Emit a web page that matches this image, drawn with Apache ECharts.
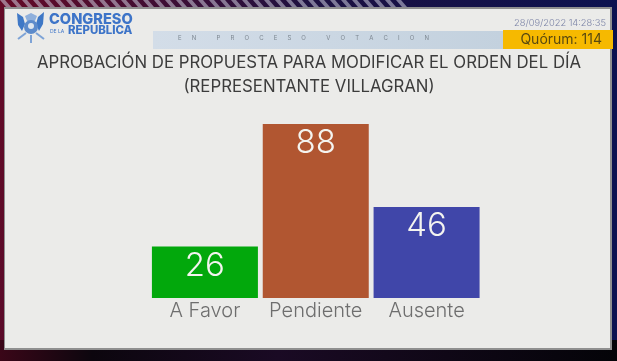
<!DOCTYPE html>
<html>
<head>
<meta charset="utf-8">
<style>
html, body { margin: 0; padding: 0; background: #0a0612; }
#chart { width: 617px; height: 361px; }
</style>
<script src="https://cdn.jsdelivr.net/npm/echarts@6/dist/echarts.min.js"></script>
</head>
<body>
<div id="chart"></div>
<script>
// 数据
var categories = ['A Favor', 'Pendiente', 'Ausente'];
var votes = [26, 88, 46];
var barColors = ['#02a80c', '#b15631', '#4046a9'];
var titleLines = ['APROBACIÓN DE PROPUESTA PARA MODIFICAR EL ORDEN DEL DÍA', '(REPRESENTANTE VILLAGRAN)'];
var stamp = '28/09/2022 14:28:35';
var quorum = 'Quórum: 114';
var statusWords = ['EN', 'PROCESO', 'VOTACION'];

var fontName = 'Inter, "Open Sans", sans-serif';
var myChart = echarts.init(document.getElementById('chart'));

// 顶部斜纹
function stripes() {
  var list = [];
  for (var x = 0; x < 400; x += 11) {
    list.push({
      type: 'polygon',
      z: -9,
      shape: { points: [[x, 0], [x + 5, 0], [x + 11, 7], [x + 6, 7]] },
      style: { fill: '#cfcfe0', opacity: 0.55 }
    });
  }
  return list;
}

// 背景和面板
function frame() {
  return [
    { type: 'rect', z: -10, shape: { x: 0, y: 0, width: 617, height: 361 },
      style: { fill: new echarts.graphic.LinearGradient(0, 0, 1, 0.2, [
        { offset: 0, color: '#640a26' }, { offset: 0.5, color: '#1c1040' }, { offset: 1, color: '#0c1250' }
      ]) } },
    // 底部暗带
    { type: 'rect', z: -9, shape: { x: 0, y: 340, width: 617, height: 21 },
      style: { fill: new echarts.graphic.LinearGradient(0, 0, 1, 0, [
        { offset: 0, color: '#3a0618' }, { offset: 0.15, color: '#0c060e' }, { offset: 0.45, color: '#1a0a24' }, { offset: 1, color: '#040408' }
      ]) } },
    { type: 'rect', z: -8, shape: { x: 4, y: 7, width: 608, height: 343 },
      style: { fill: '#8f8f8f' } },
    { type: 'rect', z: -7, shape: { x: 5, y: 9, width: 605, height: 339 },
      style: { fill: '#ebebe9' } }
  ];
}

// 徽标
function logo() {
  return [
    { type: 'polygon', shape: { points: [[17, 13], [23, 17], [25, 24], [22, 31], [18, 25]] }, style: { fill: '#3f78c6' } },
    { type: 'polygon', shape: { points: [[44, 12], [38, 17], [36, 24], [39, 31], [43, 24]] }, style: { fill: '#3f78c6' } },
    { type: 'polygon', shape: { points: [[25, 16], [31, 13], [37, 16], [35, 21], [27, 21]] }, style: { fill: '#8fb0dc' } },
    { type: 'circle', shape: { cx: 31, cy: 27, r: 7 }, style: { fill: '#5d8bcb' } },
    { type: 'circle', shape: { cx: 31, cy: 26, r: 3 }, style: { fill: '#dfe6ef' } },
    { type: 'polyline', shape: { points: [[18, 39], [26, 33]] }, style: { stroke: '#7ea3d6', lineWidth: 2 } },
    { type: 'polyline', shape: { points: [[44, 39], [36, 33]] }, style: { stroke: '#7ea3d6', lineWidth: 2 } },
    { type: 'polyline', shape: { points: [[31, 35], [31, 43]] }, style: { stroke: '#7ea3d6', lineWidth: 2 } }
  ];
}

// 标题栏
function header() {
  var spaced = statusWords.map(function (w) { return w.split('').join('      '); }).join('            ');
  return [
    { type: 'rect', shape: { x: 153, y: 31, width: 350, height: 18 },
      style: { fill: new echarts.graphic.LinearGradient(0, 0, 1, 0, [
        { offset: 0, color: '#d3dde8' }, { offset: 1, color: '#c3d1de' }
      ]) } },
    { type: 'rect', shape: { x: 503, y: 30, width: 110, height: 19 }, style: { fill: '#f6b900' } },
    { type: 'text', style: { x: 178, y: 35, text: spaced, fill: '#7d8791', font: '6px ' + fontName } },
    { type: 'text', style: { x: 606, y: 23, text: stamp, fill: '#7b83a6', align: 'right', verticalAlign: 'middle', font: '300 9.3px ' + fontName } },
    { type: 'text', style: { x: 602, y: 40, text: quorum, fill: '#5a4a10', align: 'right', verticalAlign: 'middle', font: '14px ' + fontName } },
    { type: 'text', style: { x: 49, y: 19.5, text: 'CONGRESO', fill: '#3d74c8', verticalAlign: 'middle', font: '800 14.6px ' + fontName } },
    { type: 'text', style: { x: 50, y: 31, text: 'DE LA', fill: '#3d74c8', verticalAlign: 'middle', font: '5px ' + fontName } },
    { type: 'text', style: { x: 68, y: 31, text: 'REPÚBLICA', fill: '#3d74c8', verticalAlign: 'middle', font: '800 11.4px ' + fontName } },
    { type: 'text', style: { x: 309, y: 63, text: titleLines[0], fill: '#3c3c3c', align: 'center', verticalAlign: 'middle', font: '16.8px ' + fontName } },
    { type: 'text', style: { x: 309, y: 87, text: titleLines[1], fill: '#3c3c3c', align: 'center', verticalAlign: 'middle', font: '16.8px ' + fontName } }
  ];
}

function getBarData() {
  return {
    animation: false,
    backgroundColor: 'transparent',
    graphic: frame().concat(stripes(), logo(), header()),
    grid: { left: 149.5, right: 135, top: 124, bottom: 63 },
    xAxis: {
      type: 'category',
      data: categories,
      axisLine: { show: false },
      axisTick: { show: false },
      axisLabel: { interval: 0, hideOverlap: false, color: '#6e6e6e', fontSize: 20, fontFamily: fontName, fontWeight: 300, margin: 3 }
    },
    yAxis: {
      type: 'value',
      min: 0,
      max: 88,
      show: false,
      splitLine: { show: false }
    },
    series: [
      {
        type: 'bar',
        barWidth: 106,
        data: votes.map(function (v, i) {
          return { value: v, itemStyle: { color: barColors[i] } };
        }),
        label: {
          show: true,
          position: 'insideTop',
          distance: 3,
          color: '#f4f4f0',
          fontSize: 33,
          fontWeight: 300,
          fontFamily: fontName
        }
      }
    ]
  };
}

myChart.setOption(getBarData());
</script>
</body>
</html>
